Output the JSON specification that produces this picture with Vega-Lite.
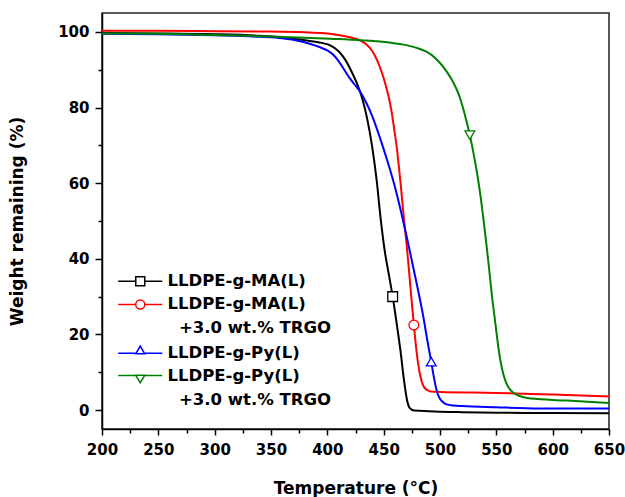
{
  "$schema": "https://vega.github.io/schema/vega-lite/v6.json",
  "width": 507,
  "height": 416,
  "autosize": {"type": "none"},
  "padding": {"left": 102, "top": 13, "right": 16, "bottom": 68},
  "config": {
    "font": "DejaVu Sans",
    "view": {"stroke": "#222222", "strokeWidth": 1.5},
    "axis": {
      "grid": false,
      "domainColor": "black",
      "domainWidth": 1.5,
      "tickColor": "black",
      "tickWidth": 1.5,
      "labelFlush": false,
      "labelOverlap": false,
      "labelFont": "DejaVu Sans",
      "labelFontSize": 15,
      "labelFontWeight": "bold",
      "labelColor": "black",
      "titleFont": "DejaVu Sans",
      "titleFontSize": 17,
      "titleFontWeight": "bold",
      "titleColor": "black"
    },
    "legend": {
      "orient": "none",
      "legendX": 30,
      "legendY": 260,
      "padding": 0,
      "labelFont": "DejaVu Sans",
      "labelFontSize": 16.5,
      "labelFontWeight": "bold",
      "labelColor": "black",
      "labelOffset": 19,
      "labelLimit": 400,
      "rowPadding": 6.2,
      "symbolSize": 81,
      "symbolStrokeWidth": 1.5,
      "symbolFillColor": "white",
      "symbolOpacity": 1
    }
  },
  "datasets": {
    "curves": [
      {"series": "LLDPE-g-MA(L)", "T": 200, "W": 99.7},
      {"series": "LLDPE-g-MA(L)", "T": 250, "W": 99.6},
      {"series": "LLDPE-g-MA(L)", "T": 300, "W": 99.4},
      {"series": "LLDPE-g-MA(L)", "T": 340, "W": 99.0},
      {"series": "LLDPE-g-MA(L)", "T": 360, "W": 98.6},
      {"series": "LLDPE-g-MA(L)", "T": 380, "W": 97.8},
      {"series": "LLDPE-g-MA(L)", "T": 395, "W": 97.1},
      {"series": "LLDPE-g-MA(L)", "T": 403, "W": 96.4},
      {"series": "LLDPE-g-MA(L)", "T": 410, "W": 94.9},
      {"series": "LLDPE-g-MA(L)", "T": 416, "W": 92.6},
      {"series": "LLDPE-g-MA(L)", "T": 421, "W": 89.8},
      {"series": "LLDPE-g-MA(L)", "T": 426, "W": 86.6},
      {"series": "LLDPE-g-MA(L)", "T": 431, "W": 82.4},
      {"series": "LLDPE-g-MA(L)", "T": 435.4, "W": 77.0},
      {"series": "LLDPE-g-MA(L)", "T": 439.8, "W": 69.6},
      {"series": "LLDPE-g-MA(L)", "T": 442, "W": 65.0},
      {"series": "LLDPE-g-MA(L)", "T": 444, "W": 60.2},
      {"series": "LLDPE-g-MA(L)", "T": 447, "W": 51.5},
      {"series": "LLDPE-g-MA(L)", "T": 451, "W": 42.0},
      {"series": "LLDPE-g-MA(L)", "T": 454.5, "W": 36.0},
      {"series": "LLDPE-g-MA(L)", "T": 458, "W": 30.0},
      {"series": "LLDPE-g-MA(L)", "T": 461.5, "W": 23.0},
      {"series": "LLDPE-g-MA(L)", "T": 465, "W": 15.5},
      {"series": "LLDPE-g-MA(L)", "T": 468, "W": 8.0},
      {"series": "LLDPE-g-MA(L)", "T": 470.5, "W": 3.0},
      {"series": "LLDPE-g-MA(L)", "T": 473, "W": 0.6},
      {"series": "LLDPE-g-MA(L)", "T": 477, "W": -0.1},
      {"series": "LLDPE-g-MA(L)", "T": 490, "W": -0.3},
      {"series": "LLDPE-g-MA(L)", "T": 520, "W": -0.55},
      {"series": "LLDPE-g-MA(L)", "T": 551, "W": -0.7},
      {"series": "LLDPE-g-MA(L)", "T": 600, "W": -0.8},
      {"series": "LLDPE-g-MA(L)", "T": 650, "W": -0.85},

      {"series": "LLDPE-g-MA(L) +3.0 wt.% TRGO", "T": 200, "W": 100.3},
      {"series": "LLDPE-g-MA(L) +3.0 wt.% TRGO", "T": 250, "W": 100.3},
      {"series": "LLDPE-g-MA(L) +3.0 wt.% TRGO", "T": 300, "W": 100.2},
      {"series": "LLDPE-g-MA(L) +3.0 wt.% TRGO", "T": 350, "W": 100.1},
      {"series": "LLDPE-g-MA(L) +3.0 wt.% TRGO", "T": 380, "W": 99.9},
      {"series": "LLDPE-g-MA(L) +3.0 wt.% TRGO", "T": 395, "W": 99.7},
      {"series": "LLDPE-g-MA(L) +3.0 wt.% TRGO", "T": 405, "W": 99.4},
      {"series": "LLDPE-g-MA(L) +3.0 wt.% TRGO", "T": 415, "W": 98.9},
      {"series": "LLDPE-g-MA(L) +3.0 wt.% TRGO", "T": 424, "W": 98.3},
      {"series": "LLDPE-g-MA(L) +3.0 wt.% TRGO", "T": 430, "W": 97.6},
      {"series": "LLDPE-g-MA(L) +3.0 wt.% TRGO", "T": 435, "W": 96.6},
      {"series": "LLDPE-g-MA(L) +3.0 wt.% TRGO", "T": 440, "W": 94.9},
      {"series": "LLDPE-g-MA(L) +3.0 wt.% TRGO", "T": 444.5, "W": 92.3},
      {"series": "LLDPE-g-MA(L) +3.0 wt.% TRGO", "T": 448.7, "W": 89.0},
      {"series": "LLDPE-g-MA(L) +3.0 wt.% TRGO", "T": 451.7, "W": 86.0},
      {"series": "LLDPE-g-MA(L) +3.0 wt.% TRGO", "T": 454.6, "W": 82.6},
      {"series": "LLDPE-g-MA(L) +3.0 wt.% TRGO", "T": 457, "W": 79.0},
      {"series": "LLDPE-g-MA(L) +3.0 wt.% TRGO", "T": 459, "W": 75.0},
      {"series": "LLDPE-g-MA(L) +3.0 wt.% TRGO", "T": 462, "W": 68.5},
      {"series": "LLDPE-g-MA(L) +3.0 wt.% TRGO", "T": 465, "W": 60.0},
      {"series": "LLDPE-g-MA(L) +3.0 wt.% TRGO", "T": 468, "W": 50.5},
      {"series": "LLDPE-g-MA(L) +3.0 wt.% TRGO", "T": 470.5, "W": 43.5},
      {"series": "LLDPE-g-MA(L) +3.0 wt.% TRGO", "T": 472.3, "W": 37.5},
      {"series": "LLDPE-g-MA(L) +3.0 wt.% TRGO", "T": 474.5, "W": 30.0},
      {"series": "LLDPE-g-MA(L) +3.0 wt.% TRGO", "T": 476.8, "W": 22.5},
      {"series": "LLDPE-g-MA(L) +3.0 wt.% TRGO", "T": 479, "W": 16.0},
      {"series": "LLDPE-g-MA(L) +3.0 wt.% TRGO", "T": 481, "W": 11.5},
      {"series": "LLDPE-g-MA(L) +3.0 wt.% TRGO", "T": 482.7, "W": 8.8},
      {"series": "LLDPE-g-MA(L) +3.0 wt.% TRGO", "T": 485, "W": 6.5},
      {"series": "LLDPE-g-MA(L) +3.0 wt.% TRGO", "T": 488.7, "W": 5.3},
      {"series": "LLDPE-g-MA(L) +3.0 wt.% TRGO", "T": 492, "W": 4.9},
      {"series": "LLDPE-g-MA(L) +3.0 wt.% TRGO", "T": 500, "W": 4.8},
      {"series": "LLDPE-g-MA(L) +3.0 wt.% TRGO", "T": 550, "W": 4.55},
      {"series": "LLDPE-g-MA(L) +3.0 wt.% TRGO", "T": 600, "W": 4.1},
      {"series": "LLDPE-g-MA(L) +3.0 wt.% TRGO", "T": 650, "W": 3.6},

      {"series": "LLDPE-g-Py(L)", "T": 200, "W": 99.5},
      {"series": "LLDPE-g-Py(L)", "T": 250, "W": 99.4},
      {"series": "LLDPE-g-Py(L)", "T": 300, "W": 99.1},
      {"series": "LLDPE-g-Py(L)", "T": 340, "W": 98.7},
      {"series": "LLDPE-g-Py(L)", "T": 360, "W": 98.3},
      {"series": "LLDPE-g-Py(L)", "T": 375, "W": 97.6},
      {"series": "LLDPE-g-Py(L)", "T": 385, "W": 96.8},
      {"series": "LLDPE-g-Py(L)", "T": 393, "W": 96.0},
      {"series": "LLDPE-g-Py(L)", "T": 400, "W": 95.1},
      {"series": "LLDPE-g-Py(L)", "T": 405, "W": 94.0},
      {"series": "LLDPE-g-Py(L)", "T": 410, "W": 92.3},
      {"series": "LLDPE-g-Py(L)", "T": 415, "W": 90.0},
      {"series": "LLDPE-g-Py(L)", "T": 420, "W": 87.7},
      {"series": "LLDPE-g-Py(L)", "T": 425, "W": 85.8},
      {"series": "LLDPE-g-Py(L)", "T": 430, "W": 83.8},
      {"series": "LLDPE-g-Py(L)", "T": 435, "W": 81.0},
      {"series": "LLDPE-g-Py(L)", "T": 440, "W": 77.6},
      {"series": "LLDPE-g-Py(L)", "T": 445, "W": 73.5},
      {"series": "LLDPE-g-Py(L)", "T": 450, "W": 69.0},
      {"series": "LLDPE-g-Py(L)", "T": 455, "W": 64.2},
      {"series": "LLDPE-g-Py(L)", "T": 460, "W": 59.0},
      {"series": "LLDPE-g-Py(L)", "T": 465, "W": 53.0},
      {"series": "LLDPE-g-Py(L)", "T": 470, "W": 46.5},
      {"series": "LLDPE-g-Py(L)", "T": 475, "W": 39.5},
      {"series": "LLDPE-g-Py(L)", "T": 480, "W": 32.5},
      {"series": "LLDPE-g-Py(L)", "T": 485, "W": 25.0},
      {"series": "LLDPE-g-Py(L)", "T": 489, "W": 18.0},
      {"series": "LLDPE-g-Py(L)", "T": 492.2, "W": 12.8},
      {"series": "LLDPE-g-Py(L)", "T": 495, "W": 8.0},
      {"series": "LLDPE-g-Py(L)", "T": 497.6, "W": 4.6},
      {"series": "LLDPE-g-Py(L)", "T": 500, "W": 3.0},
      {"series": "LLDPE-g-Py(L)", "T": 503, "W": 2.0},
      {"series": "LLDPE-g-Py(L)", "T": 506, "W": 1.5},
      {"series": "LLDPE-g-Py(L)", "T": 512, "W": 1.2},
      {"series": "LLDPE-g-Py(L)", "T": 520, "W": 1.05},
      {"series": "LLDPE-g-Py(L)", "T": 550, "W": 0.75},
      {"series": "LLDPE-g-Py(L)", "T": 589, "W": 0.45},
      {"series": "LLDPE-g-Py(L)", "T": 650, "W": 0.4},

      {"series": "LLDPE-g-Py(L) +3.0 wt.% TRGO", "T": 200, "W": 99.6},
      {"series": "LLDPE-g-Py(L) +3.0 wt.% TRGO", "T": 250, "W": 99.5},
      {"series": "LLDPE-g-Py(L) +3.0 wt.% TRGO", "T": 300, "W": 99.2},
      {"series": "LLDPE-g-Py(L) +3.0 wt.% TRGO", "T": 350, "W": 98.8},
      {"series": "LLDPE-g-Py(L) +3.0 wt.% TRGO", "T": 403, "W": 98.2},
      {"series": "LLDPE-g-Py(L) +3.0 wt.% TRGO", "T": 430, "W": 97.8},
      {"series": "LLDPE-g-Py(L) +3.0 wt.% TRGO", "T": 455, "W": 97.2},
      {"series": "LLDPE-g-Py(L) +3.0 wt.% TRGO", "T": 470, "W": 96.5},
      {"series": "LLDPE-g-Py(L) +3.0 wt.% TRGO", "T": 480, "W": 95.7},
      {"series": "LLDPE-g-Py(L) +3.0 wt.% TRGO", "T": 487, "W": 94.9},
      {"series": "LLDPE-g-Py(L) +3.0 wt.% TRGO", "T": 493, "W": 93.8},
      {"series": "LLDPE-g-Py(L) +3.0 wt.% TRGO", "T": 499, "W": 92.1},
      {"series": "LLDPE-g-Py(L) +3.0 wt.% TRGO", "T": 505, "W": 89.9},
      {"series": "LLDPE-g-Py(L) +3.0 wt.% TRGO", "T": 510, "W": 87.6},
      {"series": "LLDPE-g-Py(L) +3.0 wt.% TRGO", "T": 514, "W": 85.3},
      {"series": "LLDPE-g-Py(L) +3.0 wt.% TRGO", "T": 517.5, "W": 82.8},
      {"series": "LLDPE-g-Py(L) +3.0 wt.% TRGO", "T": 520.5, "W": 79.8},
      {"series": "LLDPE-g-Py(L) +3.0 wt.% TRGO", "T": 523.5, "W": 76.4},
      {"series": "LLDPE-g-Py(L) +3.0 wt.% TRGO", "T": 526.5, "W": 72.7},
      {"series": "LLDPE-g-Py(L) +3.0 wt.% TRGO", "T": 530, "W": 67.5},
      {"series": "LLDPE-g-Py(L) +3.0 wt.% TRGO", "T": 533.1, "W": 62.3},
      {"series": "LLDPE-g-Py(L) +3.0 wt.% TRGO", "T": 536, "W": 56.5},
      {"series": "LLDPE-g-Py(L) +3.0 wt.% TRGO", "T": 539, "W": 49.4},
      {"series": "LLDPE-g-Py(L) +3.0 wt.% TRGO", "T": 541.5, "W": 43.0},
      {"series": "LLDPE-g-Py(L) +3.0 wt.% TRGO", "T": 543.4, "W": 37.9},
      {"series": "LLDPE-g-Py(L) +3.0 wt.% TRGO", "T": 546, "W": 30.5},
      {"series": "LLDPE-g-Py(L) +3.0 wt.% TRGO", "T": 548.5, "W": 24.5},
      {"series": "LLDPE-g-Py(L) +3.0 wt.% TRGO", "T": 550.2, "W": 20.3},
      {"series": "LLDPE-g-Py(L) +3.0 wt.% TRGO", "T": 552.3, "W": 15.5},
      {"series": "LLDPE-g-Py(L) +3.0 wt.% TRGO", "T": 555, "W": 11.0},
      {"series": "LLDPE-g-Py(L) +3.0 wt.% TRGO", "T": 558, "W": 7.8},
      {"series": "LLDPE-g-Py(L) +3.0 wt.% TRGO", "T": 561, "W": 5.9},
      {"series": "LLDPE-g-Py(L) +3.0 wt.% TRGO", "T": 564.2, "W": 4.8},
      {"series": "LLDPE-g-Py(L) +3.0 wt.% TRGO", "T": 570, "W": 3.8},
      {"series": "LLDPE-g-Py(L) +3.0 wt.% TRGO", "T": 577.5, "W": 3.2},
      {"series": "LLDPE-g-Py(L) +3.0 wt.% TRGO", "T": 600, "W": 2.7},
      {"series": "LLDPE-g-Py(L) +3.0 wt.% TRGO", "T": 620, "W": 2.4},
      {"series": "LLDPE-g-Py(L) +3.0 wt.% TRGO", "T": 650, "W": 1.9}
    ],
    "markers": [
      {"series": "LLDPE-g-MA(L)", "T": 458, "W": 30.0},
      {"series": "LLDPE-g-MA(L) +3.0 wt.% TRGO", "T": 476.8, "W": 22.5},
      {"series": "LLDPE-g-Py(L)", "T": 492.2, "W": 12.8},
      {"series": "LLDPE-g-Py(L) +3.0 wt.% TRGO", "T": 526.5, "W": 72.7}
    ]
  },
  "layer": [
    {
      "data": {"name": "curves"},
      "mark": {"type": "line", "strokeWidth": 2, "interpolate": "monotone"},
      "encoding": {
        "x": {
          "field": "T", "type": "quantitative",
          "scale": {"domain": [200, 650], "nice": false},
          "axis": {"values": [200, 250, 300, 350, 400, 450, 500, 550, 600, 650], "tickSize": 6, "labelPadding": 7, "title": "Temperature (°C)", "titlePadding": 23}
        },
        "y": {
          "field": "W", "type": "quantitative",
          "scale": {"domain": [-5, 105], "nice": false, "zero": false},
          "axis": {"values": [0, 20, 40, 60, 80, 100], "tickSize": 7, "labelPadding": 6, "title": "Weight remaining (%)", "titlePadding": 31}
        },
        "stroke": {
          "field": "series", "type": "nominal", "title": null,
          "scale": {
            "domain": ["LLDPE-g-MA(L)", "LLDPE-g-MA(L) +3.0 wt.% TRGO", "+3.0 wt.% TRGO (MA)", "LLDPE-g-Py(L)", "LLDPE-g-Py(L) +3.0 wt.% TRGO", "+3.0 wt.% TRGO (Py)"],
            "range": ["#000000", "#ff0000", "#ffffff", "#0000ff", "#008000", "#ffffff"]
          },
          "legend": {"labelExpr": "indexof(datum.value, '+3.0') == 0 ? '\u200b\u00a0\u00a0+3.0 wt.% TRGO' : replace(datum.value, ' +3.0 wt.% TRGO', '')"}
        }
      }
    },
    {
      "data": {"name": "markers"},
      "mark": {"type": "point", "filled": true, "fill": "white", "strokeWidth": 1.3, "size": 95, "opacity": 1},
      "encoding": {
        "x": {
          "field": "T", "type": "quantitative",
          "axis": {"orient": "bottom", "values": [225, 275, 325, 375, 425, 475, 525, 575, 625], "tickSize": 4, "labels": false, "domain": false, "title": null}
        },
        "y": {
          "field": "W", "type": "quantitative",
          "axis": {"orient": "left", "values": [10, 30, 50, 70, 90], "tickSize": 4, "labels": false, "domain": false, "title": null}
        },
        "stroke": {
          "field": "series", "type": "nominal", "title": null,
          "legend": {"labelExpr": "indexof(datum.value, '+3.0') == 0 ? '\u200b\u00a0\u00a0+3.0 wt.% TRGO' : replace(datum.value, ' +3.0 wt.% TRGO', '')"}
        },
        "shape": {
          "condition": [
            {"test": "datum.series == 'LLDPE-g-MA(L)'", "value": "square"},
            {"test": "datum.series == 'LLDPE-g-MA(L) +3.0 wt.% TRGO'", "value": "circle"},
            {"test": "datum.series == 'LLDPE-g-Py(L)'", "value": "triangle-up"}
          ],
          "value": "triangle-down"
        }
      }
    },
    {
      "data": {"name": "markers"},
      "transform": [{"filter": "false"}],
      "mark": {"type": "point", "filled": true, "fill": "white", "strokeWidth": 1.5, "size": 81, "opacity": 1},
      "encoding": {
        "x": {"field": "T", "type": "quantitative", "axis": null},
        "y": {"field": "W", "type": "quantitative", "axis": null},
        "stroke": {
          "field": "series", "type": "nominal", "title": null,
          "legend": {"labelExpr": "indexof(datum.value, '+3.0') == 0 ? '\u200b\u00a0\u00a0+3.0 wt.% TRGO' : replace(datum.value, ' +3.0 wt.% TRGO', '')"}
        },
        "shape": {
          "field": "series", "type": "nominal", "title": null,
          "scale": {
            "domain": ["LLDPE-g-MA(L)", "LLDPE-g-MA(L) +3.0 wt.% TRGO", "+3.0 wt.% TRGO (MA)", "LLDPE-g-Py(L)", "LLDPE-g-Py(L) +3.0 wt.% TRGO", "+3.0 wt.% TRGO (Py)"],
            "range": [
              "M-4.9,0H-1M1,0H4.9M-1,-1H1V1H-1Z",
              "M-4.9,0H-1M1,0H4.9M-1,0A1,1 0 1,0 1,0A1,1 0 1,0 -1,0Z",
              "M0,0",
              "M-4.9,0.1H-0.9M0.9,0.1H4.9M0,-1.5L1,0.2H-1Z",
              "M-4.9,-0.1H-0.9M0.9,-0.1H4.9M-1,-0.2H1L0,1.5Z",
              "M0,0"
            ]
          },
          "legend": {"labelExpr": "indexof(datum.value, '+3.0') == 0 ? '\u200b\u00a0\u00a0+3.0 wt.% TRGO' : replace(datum.value, ' +3.0 wt.% TRGO', '')"}
        }
      }
    }
  ],
  "resolve": {"axis": {"x": "independent", "y": "independent"}}
}
